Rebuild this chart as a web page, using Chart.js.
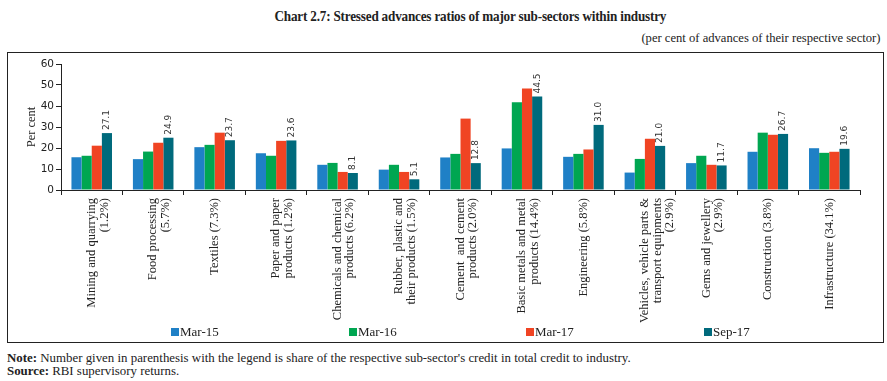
<!DOCTYPE html>
<html>
<head>
<meta charset="utf-8">
<script src="https://cdn.jsdelivr.net/npm/chart.js@4/dist/chart.umd.min.js"></script>
<style>
  html, body { margin: 0; padding: 0; background: #fff; }
  body { width: 887px; height: 381px; position: relative; overflow: hidden; font-family: "Liberation Serif", serif; color: #222; }
  #title { position: absolute; left: 0; width: 940px; top: 9px; text-align: center; font-weight: bold; font-size: 14px; letter-spacing: -0.2px; }
  #title span { display: inline-block; transform: scaleX(0.94); }
  #sub { position: absolute; right: 6px; top: 30px; font-size: 13px; }
  #sub span { display: inline-block; transform: scaleX(0.97); transform-origin: right; white-space: nowrap; }
  #box { position: absolute; left: 7px; top: 52px; width: 875px; height: 289px; border: 1.5px solid #222; }
  #wrap { position: absolute; left: 9px; top: 55px; width: 872px; height: 280px; }
  #legend { position: absolute; top: 324px; left: 0; width: 887px; height: 14px; font-size: 13px; }
  .li { position: absolute; top: 0; white-space: nowrap; }
  .sw { display: inline-block; width: 8px; height: 8px; margin-right: 1px; vertical-align: 0px; }
  #note { position: absolute; left: 7px; top: 351px; font-size: 12.5px; line-height: 14px; }
  #src { position: absolute; left: 7px; top: 364px; font-size: 12.5px; line-height: 14px; }
  #note span, #src span { display: inline-block; transform: scaleX(1.03); transform-origin: left; white-space: nowrap; }
</style>
</head>
<body>
<div id="title"><span>Chart 2.7: Stressed advances ratios of major sub-sectors within industry</span></div>
<div id="sub"><span>(per cent of advances of their respective sector)</span></div>
<div id="box"></div>
<div id="wrap"><canvas id="c" width="872" height="280"></canvas></div>
<div id="legend"></div>
<div id="note"><span><b>Note:</b> Number given in parenthesis with the legend is share of the respective sub-sector's credit in total credit to industry.</span></div>
<div id="src"><span><b>Source:</b> RBI supervisory returns.</span></div>
<script>
const categories = [
  ["Mining and quarrying", "(1.2%)"],
  ["Food processing", "(5.7%)"],
  ["Textiles (7.3%)"],
  ["Paper and paper", "products (1.2%)"],
  ["Chemicals and chemical", "products (6.2%)"],
  ["Rubber, plastic and", "their products (1.5%)"],
  ["Cement  and cement", "products (2.0%)"],
  ["Basic metals and metal", "products (14.4%)"],
  ["Engineering (5.8%)"],
  ["Vehicles, vehicle parts &", "transport equipments", "(2.9%)"],
  ["Gems and jewellery", "(2.9%)"],
  ["Construction (3.8%)"],
  ["Infrastructure (34.1%)"]
];
const seriesNames = ["Mar-15", "Mar-16", "Mar-17", "Sep-17"];
const mar15 = [15.6, 14.7, 20.4, 17.5, 12.0, 9.7, 15.5, 19.8, 15.8, 8.3, 12.8, 18.2, 19.9];
const mar16 = [16.3, 18.3, 21.5, 16.3, 12.9, 12.0, 17.2, 41.8, 17.2, 14.8, 16.3, 27.3, 17.7];
const mar17 = [21.1, 22.5, 27.3, 23.4, 8.6, 8.6, 34.0, 48.3, 19.3, 24.4, 12.0, 26.3, 18.2];
const sep17 = [27.1, 24.9, 23.7, 23.6, 8.1, 5.1, 12.8, 44.5, 31.0, 21.0, 11.7, 26.7, 19.6];
const yTicks = [0, 10, 20, 30, 40, 50, 60];
const colors = ["#1f80c6", "#00a651", "#f04423", "#006a7c"];
const legendX = [171, 349, 526, 704];

const seriesValues = [mar15, mar16, mar17, sep17];

const valueLabels = {
  id: 'valueLabels',
  afterDatasetsDraw(chart) {
    const ctx = chart.ctx;
    const meta = chart.getDatasetMeta(3);
    ctx.save();
    ctx.font = '9px "DejaVu Sans", sans-serif';
    ctx.fillStyle = '#333';
    ctx.textAlign = 'left';
    ctx.textBaseline = 'middle';
    meta.data.forEach((bar, i) => {
      ctx.save();
      ctx.translate(bar.x, bar.y - 3);
      ctx.rotate(-Math.PI / 2);
      ctx.fillText(sep17[i].toFixed(1), 0, 0);
      ctx.restore();
    });
    ctx.restore();
  }
};

new Chart(document.getElementById('c'), {
  type: 'bar',
  data: {
    labels: categories,
    datasets: seriesNames.map((n, k) => ({
      label: n,
      data: seriesValues[k],
      backgroundColor: colors[k],
      borderWidth: 0,
      categoryPercentage: 0.66,
      barPercentage: 1.0
    }))
  },
  options: {
    responsive: false,
    animation: false,
    events: [],
    layout: { padding: { left: 0, right: 21, top: 9, bottom: 0 } },
    plugins: { legend: { display: false }, tooltip: { enabled: false } },
    scales: {
      x: {
        grid: { display: true, drawOnChartArea: false, offset: true, tickLength: 5, color: '#222', lineWidth: 1 },
        border: { display: true, color: '#222', width: 1 },
        ticks: {
          maxRotation: 90, minRotation: 90, autoSkip: false, padding: 3,
          color: '#222',
          font: { family: '"Liberation Serif", serif', size: 12.5, lineHeight: 1.0 }
        },
        afterFit(scale) { scale.height = 145; }
      },
      y: {
        min: 0, max: 60,
        afterBuildTicks(scale) { scale.ticks = yTicks.map(v => ({ value: v })); },
        grid: { display: true, drawOnChartArea: false, tickLength: 5, color: '#222' },
        border: { display: true, color: '#222', width: 1 },
        ticks: { color: '#222', padding: 2, font: { family: '"DejaVu Sans", sans-serif', size: 10.5 } },
        title: { display: true, text: 'Per cent', color: '#222', padding: { top: 15, bottom: 0 }, font: { family: '"Liberation Serif", serif', size: 12.5 } },
        afterFit(scale) { scale.width = 52; }
      }
    }
  },
  plugins: [valueLabels]
});

const lg = document.getElementById('legend');
seriesNames.forEach((n, k) => {
  const d = document.createElement('div');
  d.className = 'li';
  d.style.left = legendX[k] + 'px';
  d.innerHTML = '<span class="sw" style="background:' + colors[k] + '"></span>' + n;
  lg.appendChild(d);
});
</script>
</body>
</html>
